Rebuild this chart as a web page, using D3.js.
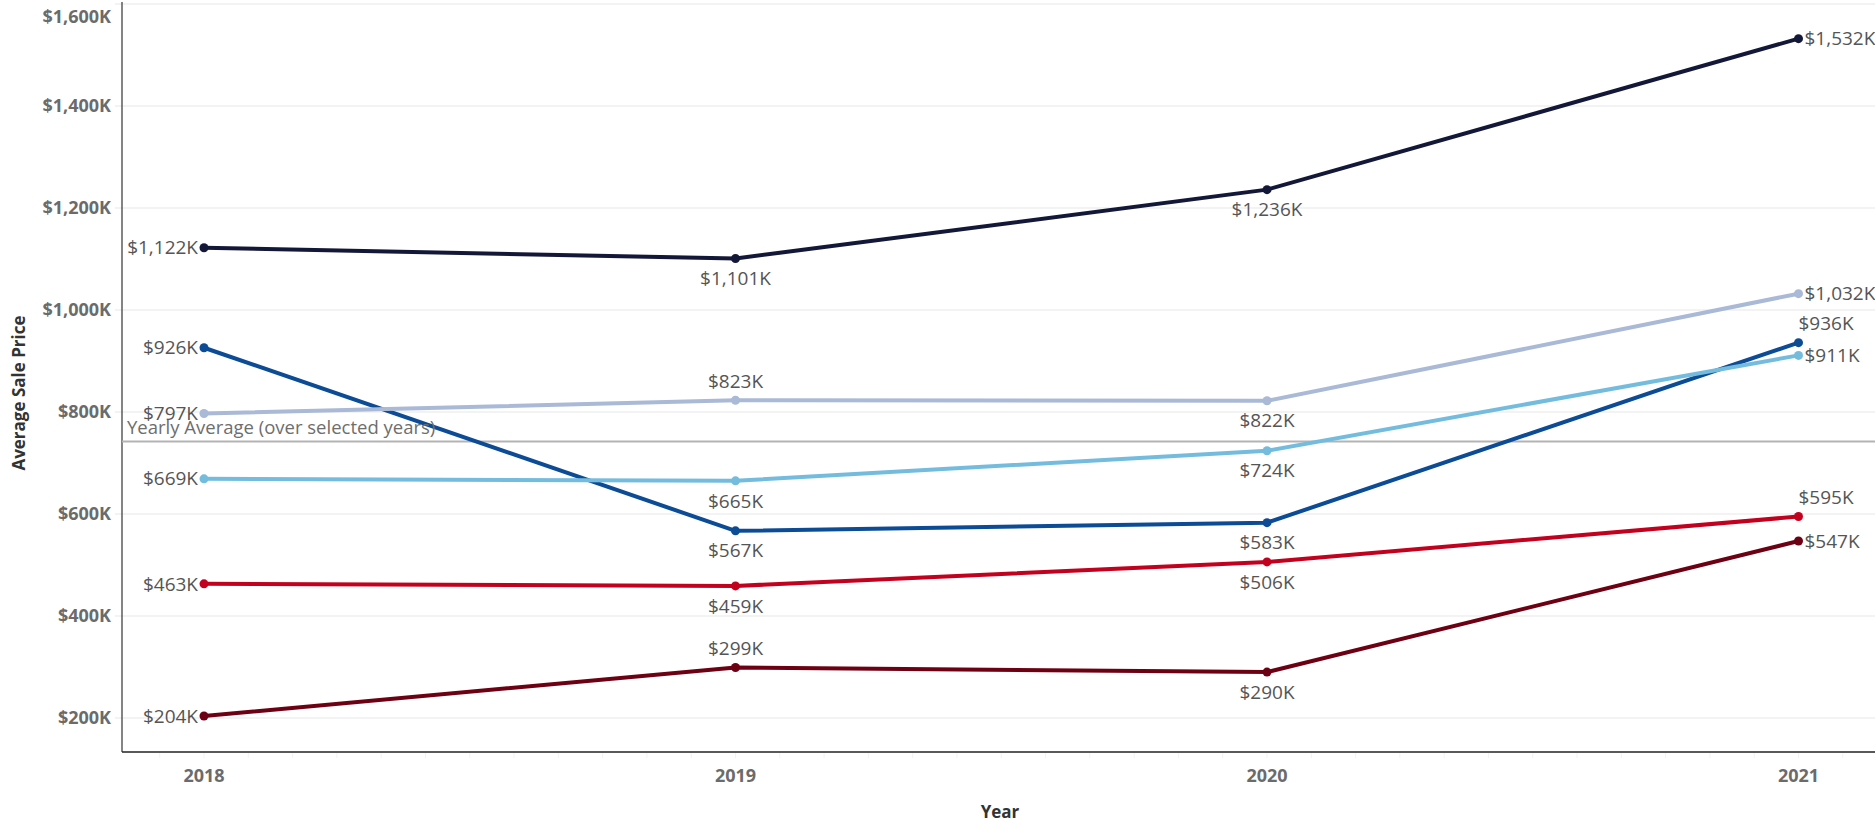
<!DOCTYPE html>
<html>
<head>
<meta charset="utf-8">
<script src="https://cdn.jsdelivr.net/npm/d3@7/dist/d3.min.js"></script>
<style>
  html, body { margin: 0; padding: 0; background: #fff; }
  svg { display: block; font-family: "Open Sans", "Noto Sans", sans-serif; }
</style>
</head>
<body>
<svg id="chart" width="1875" height="828"></svg>
<script>
// ---- data ----
const years = ["2018", "2019", "2020", "2021"];
const seriesNames = ["S1", "S2", "S3", "S4", "S5", "S6"];
const seriesValues = [
  [1122, 1101, 1236, 1532],
  [797, 823, 822, 1032],
  [926, 567, 583, 936],
  [669, 665, 724, 911],
  [463, 459, 506, 595],
  [204, 299, 290, 547]
];
const seriesColors = ["#131838", "#a9b9d6", "#0c4b95", "#74bcde", "#c3001d", "#6d0013"];
// label placement per point: L = left, R = right, A = above, B = below, AS = above (start-anchored)
const labelPlacement = [
  ["L", "B", "B", "R"],
  ["L", "A", "B", "R"],
  ["L", "B", "B", "AS"],
  ["L", "B", "B", "R"],
  ["L", "B", "B", "AS"],
  ["L", "A", "B", "R"]
];
const yTicks = [200, 400, 600, 800, 1000, 1200, 1400, 1600];
const yearlyAverage = 742;
const refLabel = "Yearly Average (over selected years)";
const yTitle = "Average Sale Price";
const xTitle = "Year";

// ---- layout ----
const svg = d3.select("#chart");
const plotLeft = 122, plotRight = 1875, plotTop = 2, plotBottom = 752;

const x = d3.scalePoint().domain(years).range([204, 1798.5]);
const step = x.step();
const y = d3.scaleLinear().domain([1600 - (plotBottom - 4) / 0.51, 1600]).range([plotBottom, 4]);

const fmt = v => "$" + d3.format(",")(v) + "K";

// gridlines
svg.append("g").selectAll("line").data(yTicks).join("line")
  .attr("x1", 115).attr("x2", plotRight)
  .attr("y1", d => y(d)).attr("y2", d => y(d))
  .attr("stroke", "#efefef").attr("stroke-width", 1.5);

// y axis labels
svg.append("g").selectAll("text").data(yTicks).join("text")
  .attr("x", 111)
  .attr("y", d => Math.max(y(d), 17))
  .attr("dy", "0.35em")
  .attr("text-anchor", "end")
  .attr("font-size", 18).attr("font-weight", 700)
  .attr("fill", "#6b6b6b")
  .text(d => fmt(d));

// minor ticks on x axis (monthly)
const minorTicks = d3.range(-2, 3 * 12 + 3).map(i => x("2018") + i * step / 12)
  .filter(v => v > plotLeft + 2 && v < plotRight);
svg.append("g").selectAll("line").data(minorTicks).join("line")
  .attr("x1", d => d).attr("x2", d => d)
  .attr("y1", plotBottom + 1).attr("y2", plotBottom + 6)
  .attr("stroke", "#f3f3f3").attr("stroke-width", 1);

// axes lines
svg.append("line").attr("x1", plotLeft).attr("x2", plotLeft).attr("y1", plotTop).attr("y2", plotBottom)
  .attr("stroke", "#333").attr("stroke-width", 1.2);
svg.append("line").attr("x1", plotLeft).attr("x2", plotRight).attr("y1", plotBottom).attr("y2", plotBottom)
  .attr("stroke", "#222").attr("stroke-width", 1.6);

// x axis labels
svg.append("g").selectAll("text").data(years).join("text")
  .attr("x", d => x(d)).attr("y", 776).attr("dy", "0.35em")
  .attr("text-anchor", "middle")
  .attr("font-size", 18).attr("font-weight", 700).attr("fill", "#6b6b6b")
  .text(d => d);

// titles
svg.append("text").attr("x", 1000).attr("y", 812).attr("dy", "0.35em")
  .attr("text-anchor", "middle").attr("font-size", 17).attr("font-weight", 700).attr("fill", "#333")
  .text(xTitle);
svg.append("text").attr("transform", "translate(19,393) rotate(-90)").attr("dy", "0.35em")
  .attr("text-anchor", "middle").attr("font-size", 17).attr("font-weight", 700).attr("fill", "#333")
  .text(yTitle);

// reference line
svg.append("line").attr("x1", plotLeft).attr("x2", plotRight)
  .attr("y1", y(yearlyAverage)).attr("y2", y(yearlyAverage))
  .attr("stroke", "#b4b4b4").attr("stroke-width", 2);

// lines
const line = d3.line().x((d, i) => x(years[i])).y(d => y(d));
const order = [0, 2, 1, 3, 4, 5];
const gLines = svg.append("g");
order.forEach(s => {
  gLines.append("path").datum(seriesValues[s])
    .attr("d", line).attr("fill", "none")
    .attr("stroke", seriesColors[s]).attr("stroke-width", 4)
    .attr("stroke-linejoin", "round");
  gLines.append("g").selectAll("circle").data(seriesValues[s]).join("circle")
    .attr("cx", (d, i) => x(years[i])).attr("cy", d => y(d)).attr("r", 4.5)
    .attr("fill", seriesColors[s]);
});

// reference label
svg.append("text").attr("x", 127).attr("y", y(yearlyAverage) - 14).attr("dy", "0.35em")
  .attr("font-size", 18.5).attr("fill", "#6e6e6e")
  .text(refLabel);

// data labels
const gLabels = svg.append("g");
seriesValues.forEach((vals, s) => {
  vals.forEach((v, i) => {
    const px = x(years[i]), py = y(v), p = labelPlacement[s][i];
    let tx = px, ty = py, anchor = "middle";
    if (p === "L") { tx = px - 6; anchor = "end"; }
    else if (p === "R") { tx = px + 6; anchor = "start"; }
    else if (p === "A") { ty = py - 19; }
    else if (p === "AS") { ty = py - 19; anchor = "start"; }
    else if (p === "B") { ty = py + 20; }
    gLabels.append("text").attr("x", tx).attr("y", ty).attr("dy", "0.35em")
      .attr("text-anchor", anchor).attr("font-size", 19).attr("fill", "#555")
      .text(fmt(v));
  });
});
</script>
</body>
</html>
